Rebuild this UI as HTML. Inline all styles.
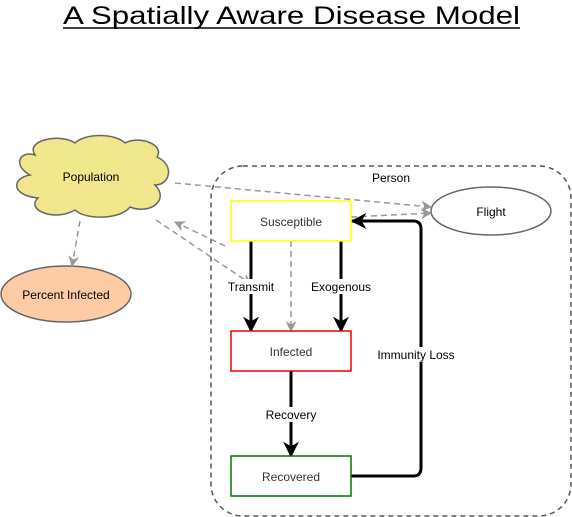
<!DOCTYPE html>
<html><head><style>body{margin:0;background:#fff}svg{display:block}text{font-family:"Comic Sans MS","Liberation Sans",sans-serif}</style></head><body>
<svg width="572" height="517" viewBox="0 0 572 517" xmlns="http://www.w3.org/2000/svg">
<defs>
<marker id="bb" viewBox="0 0 10 10" refX="9" refY="5" markerWidth="16" markerHeight="16" orient="auto" markerUnits="userSpaceOnUse"><path d="M0,0 L10,5 L0,10 L3,5z" fill="#000"/></marker>
<marker id="g" viewBox="0 0 10 10" refX="9" refY="5" markerWidth="11" markerHeight="11" orient="auto" markerUnits="userSpaceOnUse"><path d="M0,0 L10,5 L0,10 L3,5z" fill="#999"/></marker>
</defs>
<text x="63" y="24" font-size="25" textLength="457" lengthAdjust="spacingAndGlyphs" fill="#000">A Spatially Aware Disease Model</text>
<line x1="63" y1="28" x2="520" y2="28" stroke="#000" stroke-width="1.5"/>
<rect x="211" y="166" width="360" height="350" rx="32" fill="none" stroke="#555" stroke-width="1.5" stroke-dasharray="5,4"/>
<text x="391" y="182" font-size="12" text-anchor="middle">Person</text>
<path d="M35,155 C25,140 60,133 75,143 C85,133 115,133 125,143 C140,135 165,145 157,157 C175,165 170,185 155,185 C170,200 150,215 130,207 C120,220 85,220 75,210 C55,222 25,210 38,198 C10,195 12,178 30,175 C12,165 20,150 35,155Z" fill="#f0e68c" stroke="#666" stroke-width="1.5"/>
<text x="91" y="181" font-size="12" text-anchor="middle">Population</text>
<ellipse cx="66" cy="294" rx="65" ry="28" fill="#ffcba4" stroke="#666" stroke-width="1.5"/>
<text x="66" y="299" font-size="12" text-anchor="middle">Percent Infected</text>
<ellipse cx="491" cy="211" rx="60" ry="24" fill="#fff" stroke="#666" stroke-width="1.5"/>
<text x="491" y="216" font-size="12" text-anchor="middle">Flight</text>
<g stroke="#999" stroke-width="1.5" stroke-dasharray="6,4" fill="none">
<line x1="175" y1="183" x2="431" y2="207" marker-end="url(#g)"/>
<line x1="351" y1="217" x2="431" y2="213" marker-end="url(#g)"/>
<line x1="80" y1="221" x2="72" y2="266" marker-end="url(#g)"/>
<line x1="156" y1="220" x2="251" y2="284" marker-end="url(#g)"/>
<line x1="225" y1="246" x2="175" y2="222" marker-end="url(#g)"/>
<line x1="291" y1="241" x2="291" y2="331" marker-end="url(#g)"/>
</g>
<g stroke="#000" stroke-width="3" fill="none">
<line x1="251" y1="241" x2="251" y2="331" marker-end="url(#bb)"/>
<line x1="341" y1="241" x2="341" y2="331" marker-end="url(#bb)"/>
<line x1="291" y1="371" x2="291" y2="456" marker-end="url(#bb)"/>
<path d="M351,476 H413 Q421,476 421,468 V229 Q421,221 413,221 H352" marker-end="url(#bb)"/>
</g>
<rect x="231" y="201" width="120" height="40" fill="#fff" stroke="#ffff00" stroke-width="1.5"/>
<text x="291" y="226" font-size="12" text-anchor="middle" fill="#333">Susceptible</text>
<rect x="231" y="331" width="120" height="40" fill="#fff" stroke="#e00" stroke-width="1.5"/>
<text x="291" y="356" font-size="12" text-anchor="middle" fill="#333">Infected</text>
<rect x="231" y="456" width="120" height="40" fill="#fff" stroke="#070" stroke-width="1.5"/>
<text x="291" y="481" font-size="12" text-anchor="middle" fill="#333">Recovered</text>
<g font-size="12" text-anchor="middle">
<rect x="221" y="279" width="60" height="15" fill="#fff"/><text x="251" y="291">Transmit</text>
<rect x="307" y="279" width="68" height="15" fill="#fff"/><text x="341" y="291">Exogenous</text>
<rect x="259" y="407" width="64" height="15" fill="#fff"/><text x="291" y="419">Recovery</text>
<rect x="368" y="347" width="70" height="15" fill="#fff"/><text x="416" y="359">Immunity Loss</text>
</g>
</svg>
</body></html>
